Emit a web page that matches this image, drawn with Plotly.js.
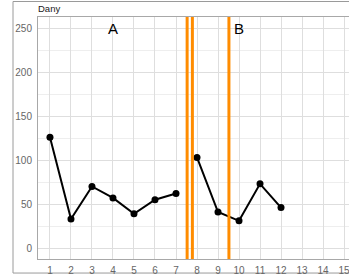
<!DOCTYPE html>
<html>
<head>
<meta charset="utf-8">
<script src="https://cdn.plot.ly/plotly-3.0.1.min.js"></script>
<style>
html,body{margin:0;padding:0;overflow:hidden;background:#fff;}
#chart{width:366px;height:277px;}
</style>
</head>
<body>
<div id="chart"></div>
<script>
// Data
var sessionsA = [1, 2, 3, 4, 5, 6, 7];
var valuesA = [127, 34, 71, 58, 40, 56, 63];
var sessionsB = [8, 9, 10, 11, 12];
var valuesB = [104, 42, 32, 74, 47];
var phaseLines = [7.53, 7.78, 9.52];
var phaseLabels = ['A', 'B'];
var phaseLabelX = [4, 10];
var phaseLabelY = 250;
var panelTitle = 'Dany';
var xTicks = [1,2,3,4,5,6,7,8,9,10,11,12,13,14,15];
var yTicks = [0, 50, 100, 150, 200, 250];

var lineStyle = {color: '#000', width: 2};
var markerStyle = {color: '#000', size: 7};

var traces = [
  {x: sessionsA, y: valuesA, mode: 'lines+markers', line: lineStyle, marker: markerStyle, hoverinfo: 'none'},
  {x: sessionsB, y: valuesB, mode: 'lines+markers', line: lineStyle, marker: markerStyle, hoverinfo: 'none'}
];

var shapes = [
  {type: 'rect', xref: 'paper', yref: 'paper', x0: -0.0786, x1: 1.2, y0: -0.058, y1: 1.064,
   line: {color: '#9a9a9a', width: 1}, layer: 'below'}
];
phaseLines.forEach(function (v) {
  shapes.push({type: 'line', xref: 'x', yref: 'paper', x0: v, x1: v, y0: 0, y1: 1,
    line: {color: '#ff8c00', width: 3}});
});

var annotations = phaseLabels.map(function (t, i) {
  return {x: phaseLabelX[i], y: phaseLabelY, xref: 'x', yref: 'y', text: t, showarrow: false,
    font: {family: 'Liberation Sans, Arial, sans-serif', size: 15, color: '#000'}};
});
annotations.push({x: -0.005, y: 1.037, xref: 'paper', yref: 'paper', text: panelTitle, showarrow: false,
  xanchor: 'left', yanchor: 'middle', font: {family: 'Liberation Sans, Arial, sans-serif', size: 9.5, color: '#1a1a1a'}});

var layout = {
  width: 366, height: 277,
  margin: {l: 38, r: 10, t: 17, b: 18, pad: 0},
  paper_bgcolor: '#fff', plot_bgcolor: '#fff',
  showlegend: false,
  font: {family: 'Liberation Sans, Arial, sans-serif', size: 10, color: '#666'},
  xaxis: {
    range: [0.43, 15.57], tickvals: xTicks, ticktext: xTicks.map(String),
    showgrid: true, gridcolor: '#dedede', gridwidth: 1,
    zeroline: false, showline: true, linecolor: '#a8a8a8', linewidth: 1, mirror: true,
    ticks: '', ticklabelstandoff: 2, tickfont: {size: 10, color: '#666'}, fixedrange: true
  },
  yaxis: {
    range: [-11.4, 263.6], tickvals: yTicks, ticktext: yTicks.map(String),
    showgrid: true, gridcolor: '#dedede', gridwidth: 1,
    minor: {tick0: 25, dtick: 50, showgrid: true, gridcolor: '#eeeeee', gridwidth: 1},
    zeroline: false, showline: true, linecolor: '#a8a8a8', linewidth: 1, mirror: true,
    ticks: '', ticklabelstandoff: 3, tickfont: {size: 10, color: '#666'}, fixedrange: true
  },
  shapes: shapes,
  annotations: annotations
};

Plotly.newPlot('chart', traces, layout, {displayModeBar: false, staticPlot: true});
</script>
</body>
</html>
